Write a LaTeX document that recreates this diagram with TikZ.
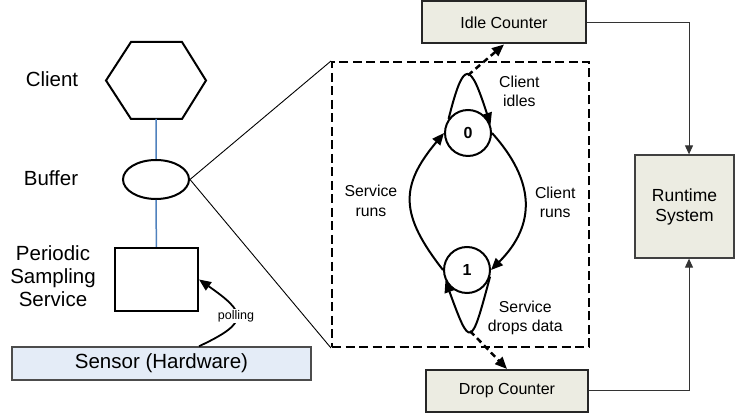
\documentclass[tikz,border=0pt]{standalone}
\usepackage{fontspec}
\setmainfont{Liberation Sans}
\usetikzlibrary{arrows.meta, positioning, shapes.geometric, calc}
\definecolor{panel}{RGB}{236,236,226}
\definecolor{hwfill}{RGB}{228,236,247}
\definecolor{wireblue}{RGB}{79,129,189}
\tikzset{
  every picture/.style={line width=2pt, x=1pt, y=1pt},
  every node/.style={font=\fontsize{20.5}{23}\selectfont},
  tag/.style={align=center},
  small/.style={font=\fontsize{15.8}{19.5}\selectfont, align=center},
  fstate/.style={draw, circle, minimum size=46pt, inner sep=0pt, font=\fontsize{16}{18}\selectfont\bfseries},
  counter/.style={draw=black!85, fill=panel, minimum height=42pt, font=\fontsize{16}{19}\selectfont},
  link/.style={draw=wireblue, line width=1.5pt},
  zoomline/.style={line width=0.9pt},
  fat tip/.style={-{Triangle[length=12pt, width=10pt]}},
  notify/.style={fat tip, line width=2.5pt, dash pattern=on 6pt off 4pt},
  feed/.style={-{Triangle[length=9pt, width=8pt]}, line width=1pt, draw=black!80}
}

\begin{document}
\begin{tikzpicture}
  \useasboundingbox (0,0) rectangle (735,414);

  % the sampling stack on the left
  \node [minimum width=98pt, minimum height=75pt, inner sep=0pt] (client) at (156,333.5) {};
  \draw (client.west) -- ([xshift=25pt]client.north west) -- ([xshift=-24pt]client.north east)
    -- (client.east) -- ([xshift=-24pt]client.south east) -- ([xshift=25pt]client.south west) -- cycle;
  \node [draw, ellipse, minimum width=66pt, minimum height=39pt, inner sep=0pt] (buffer) at (156,234.5) {};
  \node [draw, minimum width=83pt, minimum height=63pt, inner sep=0pt] (sampler) at (156.5,134.5) {};
  \node [draw=black!70, fill=hwfill, line width=1.5pt, minimum width=299pt, minimum height=33pt] (sensor) at (161.5,50.5) {Sensor (Hardware)};

  \node (clientlbl) at (52,335) {Client};
  \node (bufferlbl) at (51,236) {Buffer};
  \node [tag] (samplerlbl) at (53,138) {Periodic\\Sampling\\Service};

  \draw [link] (client) -- (buffer) -- (sampler);
  \draw [fat tip, line width=1.8pt] (sampler.east |- sensor.north) to[out=25, in=-35, looseness=2.2]
    node [fill=white, inner sep=1pt, font=\fontsize{12.5}{14}\selectfont] (poll) {polling} (sampler.east);

  % buffer state machine, blown up
  \node [draw, line width=2pt, dash pattern=on 9pt off 4.5pt, minimum width=257pt, minimum height=285pt] (fsm) at (460.5,209.5) {};
  \draw [zoomline] (buffer.east) -- (fsm.north west);
  \draw [zoomline] (buffer.east) -- (fsm.south west);

  \node [fstate] (0) at (468,281) {0};
  \node [fstate] (1) at (467,144) {1};

  \draw [fat tip] (0.144) to[out=76, in=108, looseness=3.9]
    node [coordinate, pos=0.5] (idleout) {}
    node [small, pos=0.75, right=17pt, yshift=-2pt] (idlelbl) {Client\\idles} (0.20);
  \draw [fat tip] (0.east) to[out=-48, in=45, looseness=1.2]
    node [small, right=6pt] (runlbl) {Client\\runs} (1.east);
  \draw [fat tip] (1.west) to[out=128, in=-130, looseness=1.3]
    node [small, left=9pt] (servlbl) {Service\\runs} (0.west);
  \draw [fat tip] (1.-16) to[out=-105, in=-70, looseness=4.2]
    node [coordinate, pos=0.5] (dropout) {}
    node [small, pos=0.25, right=5pt, yshift=-1pt] (droplbl) {Service\\drops data} (1.-154);

  % counters and runtime
  \node [counter, minimum width=164pt] (idle) at (504,391.5) {Idle Counter};
  \node [counter, minimum width=162pt] (drop) at (507,23) {Drop Counter};
  \node [draw=black!75, fill=panel, line width=1.3pt, minimum width=99pt, minimum height=103pt, align=center,
         font=\fontsize{17.5}{20}\selectfont] (runtime) at (684.5,207.5) {Runtime\\System};

  \draw [notify] (idleout) -- (idle.south);
  \draw [notify] (dropout) -- (drop.north);
  \draw [feed] (idle.east) -| ([xshift=4.5pt]runtime.north);
  \draw [feed] (drop.east) -| ([xshift=4.5pt]runtime.south);
\end{tikzpicture}
\end{document}
